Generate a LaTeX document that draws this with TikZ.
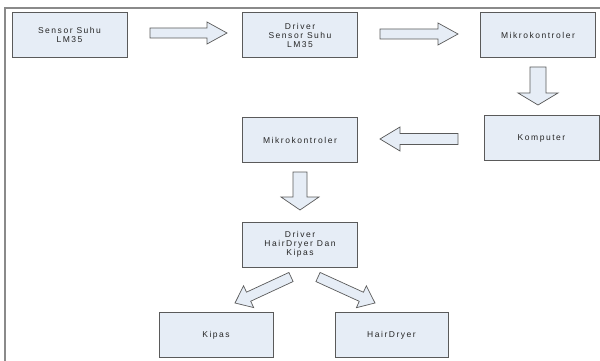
\documentclass[tikz,border=0pt]{standalone}
\usepackage{fontspec}
\setmainfont{Liberation Sans}[LetterSpace=18]
\usetikzlibrary{calc}
\definecolor{boxfill}{HTML}{E6EDF6}
\definecolor{boxline}{HTML}{5A5A5A}
\definecolor{frameline}{HTML}{8A8A8A}
\tikzset{
  blk/.style={draw=boxline, line width=0.9pt, fill=boxfill, minimum width=115pt, minimum height=45pt,
    align=center, font=\fontsize{8.5}{9}\selectfont, text=black!85, inner sep=0pt},
  barrow/.style n args={3}{draw=boxline, line width=0.7pt, fill=boxfill,
    to path={($(\tikztostart)!#1!90:(\tikztotarget)$)
      -- ($($(\tikztotarget)!#3!(\tikztostart)$)!#1!90:(\tikztotarget)$)
      -- ($($(\tikztotarget)!#3!(\tikztostart)$)!#2!90:(\tikztotarget)$)
      -- (\tikztotarget)
      -- ($($(\tikztotarget)!#3!(\tikztostart)$)!#2!-90:(\tikztotarget)$)
      -- ($($(\tikztotarget)!#3!(\tikztostart)$)!#1!-90:(\tikztotarget)$)
      -- ($(\tikztostart)!#1!-90:(\tikztotarget)$) -- cycle}}
}
\begin{document}
\begin{tikzpicture}[x=1pt,y=-1pt]
\useasboundingbox (0,0) rectangle (600,361);
\draw[frameline, line width=1.4pt] (5,361) -- (5,8) -- (600,8);
% boxes
\node[blk] (sensor) at (69.5,34.5) {Sensor Suhu\\LM35};
\node[blk] (drvs) at (300,35) {Driver\\Sensor Suhu\\LM35};
\node[blk] (mk1) at (538,35) {Mikrokontroler};
\node[blk] (komp) at (541.5,138) {Komputer};
\node[blk] (mk2) at (300,140) {Mikrokontroler};
\node[blk] (drvh) at (300,244.5) {Driver\\HairDryer Dan\\Kipas};
\node[blk, minimum width=114pt] (kipas) at (216,335) {Kipas};
\node[blk, minimum width=113pt] (hd) at (391.5,335) {HairDryer};
% arrow ends
\coordinate (a1s) at (150,33); \coordinate (a1e) at (227,33);
\coordinate (a2s) at (380,34); \coordinate (a2e) at (458,34);
\coordinate (a3s) at (538,67); \coordinate (a3e) at (538,105);
\coordinate (a4s) at (458,139); \coordinate (a4e) at (380,139);
\coordinate (a5s) at (300,172); \coordinate (a5e) at (300,210);
\coordinate (a6s) at (291,277); \coordinate (a6e) at (235,303);
\coordinate (a7s) at (318,277); \coordinate (a7e) at (375,303);
\draw[barrow={5pt}{11pt}{20pt}] (a1s) to (a1e);
\draw[barrow={5pt}{11pt}{20pt}] (a2s) to (a2e);
\draw[barrow={8pt}{20pt}{12pt}] (a3s) to (a3e);
\draw[barrow={5.5pt}{12pt}{20pt}] (a4s) to (a4e);
\draw[barrow={7pt}{19pt}{13pt}] (a5s) to (a5e);
\draw[barrow={5pt}{12pt}{15pt}] (a6s) to (a6e);
\draw[barrow={5pt}{12pt}{15pt}] (a7s) to (a7e);
\end{tikzpicture}
\end{document}
